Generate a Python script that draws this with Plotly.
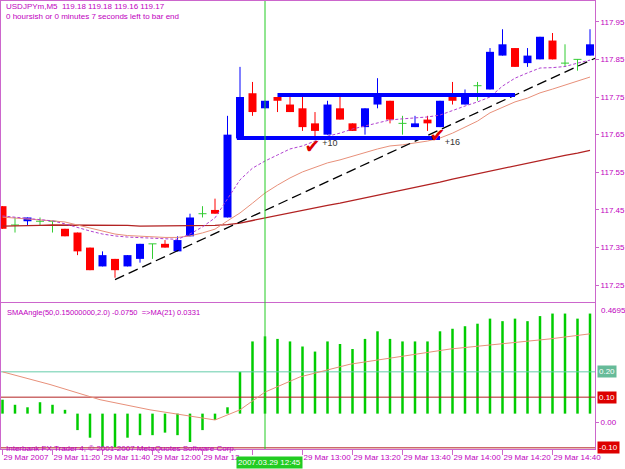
import plotly.graph_objects as go

# ---------------- data ----------------
TIME_LABELS = ["29 Mar 2007", "29 Mar 11:20", "29 Mar 11:40", "29 Mar 12:00", "29 Mar 12",
               "", "29 Mar 13:00", "29 Mar 13:20", "29 Mar 13:40", "29 Mar 14:00",
               "29 Mar 14:20", "29 Mar 14:40"]
TIME_TICK_BARS = [0, 4, 8, 12, 16, 20, 24, 28, 32, 36, 40, 44]
BARS = list(range(48))

OPEN = [117.46, 117.41, 117.42, 117.42, 117.42, 117.40, 117.39, 117.35, 117.30, 117.32,
        117.30, 117.32, 117.36, 117.36, 117.34, 117.38, 117.44, 117.45, 117.43, 117.64,
        117.76, 117.72, 117.75, 117.73, 117.72, 117.68, 117.65, 117.72, 117.68, 117.67,
        117.73, 117.74, 117.68, 117.67, 117.69, 117.67, 117.75, 117.73, 117.78, 117.77,
        117.86, 117.88, 117.84, 117.85, 117.90, 117.84, 117.85, 117.86]
HIGH = [117.46, 117.43, 117.43, 117.43, 117.42, 117.40, 117.39, 117.35, 117.34, 117.32,
        117.33, 117.36, 117.36, 117.37, 117.38, 117.44, 117.46, 117.48, 117.70, 117.83,
        117.79, 117.74, 117.75, 117.75, 117.75, 117.71, 117.74, 117.75, 117.68, 117.72,
        117.80, 117.74, 117.70, 117.70, 117.70, 117.74, 117.79, 117.77, 117.79, 117.88,
        117.93, 117.88, 117.88, 117.91, 117.92, 117.89, 117.85, 117.93]
LOW = [117.40, 117.39, 117.41, 117.41, 117.39, 117.38, 117.33, 117.29, 117.30, 117.27,
       117.30, 117.31, 117.32, 117.35, 117.34, 117.38, 117.43, 117.44, 117.43, 117.64,
       117.70, 117.72, 117.71, 117.71, 117.66, 117.64, 117.65, 117.69, 117.66, 117.65,
       117.72, 117.68, 117.65, 117.67, 117.66, 117.67, 117.73, 117.73, 117.74, 117.77,
       117.86, 117.83, 117.83, 117.85, 117.85, 117.83, 117.82, 117.86]
CLOSE = [117.40, 117.41, 117.43, 117.42, 117.42, 117.38, 117.34, 117.29, 117.33, 117.29,
         117.33, 117.36, 117.36, 117.35, 117.37, 117.43, 117.44, 117.44, 117.65, 117.75,
         117.71, 117.74, 117.74, 117.71, 117.67, 117.66, 117.73, 117.69, 117.66, 117.72,
         117.76, 117.69, 117.68, 117.68, 117.68, 117.74, 117.74, 117.76, 117.78, 117.87,
         117.89, 117.83, 117.86, 117.91, 117.85, 117.84, 117.85, 117.89]

MA_FAST = [117.434, 117.431, 117.429, 117.425, 117.421, 117.413, 117.403, 117.394, 117.386, 117.381,
           117.378, 117.376, 117.374, 117.373, 117.372, 117.386, 117.405, 117.429, 117.479, 117.530,
           117.561, 117.580, 117.596, 117.612, 117.620, 117.633, 117.646, 117.654, 117.665, 117.673,
           117.681, 117.689, 117.692, 117.694, 117.697, 117.702, 117.715, 117.726, 117.737, 117.750,
           117.779, 117.800, 117.814, 117.827, 117.828, 117.831, 117.840, 117.848]
MA_MID = [117.431, 117.429, 117.426, 117.423, 117.421, 117.418, 117.410, 117.402, 117.394, 117.386,
          117.382, 117.380, 117.378, 117.377, 117.377, 117.381, 117.389, 117.399, 117.421, 117.442,
          117.468, 117.495, 117.516, 117.535, 117.551, 117.564, 117.575, 117.583, 117.593, 117.601,
          117.612, 117.620, 117.623, 117.628, 117.633, 117.641, 117.654, 117.670, 117.686, 117.708,
          117.723, 117.737, 117.747, 117.761, 117.771, 117.782, 117.792, 117.803]
MA_SLOW = [117.407, 117.407, 117.409, 117.409, 117.410, 117.410, 117.410, 117.410, 117.410, 117.409,
           117.409, 117.407, 117.407, 117.407, 117.407, 117.407, 117.407, 117.409, 117.411, 117.415,
           117.422, 117.429, 117.435, 117.442, 117.449, 117.455, 117.462, 117.468, 117.475, 117.482,
           117.488, 117.495, 117.503, 117.510, 117.516, 117.524, 117.532, 117.539, 117.546, 117.553,
           117.561, 117.568, 117.575, 117.583, 117.588, 117.595, 117.601, 117.608]

TREND_X = [9, 47.4]
TREND_Y = [117.265, 117.853]
BOX_TOP_X = [22, 41]
BOX_TOP_Y = [117.755, 117.755]
BOX_BOT_X = [18.75, 35]
BOX_BOT_Y = [117.641, 117.641]
MARKS = [(24.8, 117.615, "+10", 26.2, 117.625), (34.8, 117.644, "+16", 36.0, 117.628)]
VLINE_BAR = 21

PRICE_TICKS = [117.25, 117.35, 117.45, 117.55, 117.65, 117.75, 117.85, 117.95]

HIST_BASE = 0.035
SMA_ANGLE = [0.09, 0.07, 0.06, 0.08, 0.07, 0.05, -0.03, -0.06, -0.097, -0.097,
             -0.06, -0.05, -0.05, -0.04, -0.05, -0.077, -0.03, 0.01, 0.06, 0.20,
             0.32, 0.34, 0.33, 0.32, 0.30, 0.28, 0.32, 0.31, 0.29, 0.33,
             0.36, 0.33, 0.32, 0.32, 0.32, 0.36, 0.37, 0.38, 0.39, 0.41,
             0.40, 0.41, 0.40, 0.42, 0.43, 0.43, 0.41, 0.43]
MA21_X = [0, 3.8, 7.8, 11.8, 17, 19, 21, 23.8, 27.8, 31.8, 35.8, 39.8, 43.8, 47]
MA21_Y = [0.20, 0.15, 0.09, 0.05, 0.01, 0.05, 0.12, 0.18, 0.23, 0.26, 0.29, 0.31, 0.33, 0.35]
LEVELS = [0.20, 0.10, -0.10]

# ---------------- styles ----------------
FRAME = "#CC66CC"
TXT = "#C000C0"
BULL = "#0000FF"
BEAR = "#FF0000"
DOJI = "#33CC33"
FONT = "Liberation Sans"

W, H = 625, 469
ML, MR, MT, MB = 1, 30, 1, 20
PW = W - ML - MR
PH = H - MT - MB
MAIN_BOT = 302
IND_TOP = 303


def py(ypx):
    return (H - MB - ypx) / PH


def px(xpx):
    return (xpx - ML) / PW


fig = go.Figure()

# candle bodies
bx, bbase, bh, bcol = [], [], [], []
for i, o, c in zip(BARS, OPEN, CLOSE):
    if o != c:
        bx.append(i)
        bbase.append(min(o, c))
        bh.append(abs(c - o))
        bcol.append(BULL if c > o else BEAR)
fig.add_trace(go.Bar(x=bx, y=bh, base=bbase, width=0.64, marker=dict(color=bcol, line=dict(width=0)),
                     xaxis="x", yaxis="y", hoverinfo="skip"))

# wicks
for col, cond in ((BULL, lambda o, c: c > o), (BEAR, lambda o, c: c < o)):
    wx, wy = [], []
    for i, o, h, l, c in zip(BARS, OPEN, HIGH, LOW, CLOSE):
        if cond(o, c):
            wx += [i, i, None]
            wy += [l, h, None]
    fig.add_trace(go.Scatter(x=wx, y=wy, mode="lines", line=dict(color=col, width=1),
                             xaxis="x", yaxis="y", hoverinfo="skip"))

# doji crosses
dx, dy = [], []
for i, o, h, l, c in zip(BARS, OPEN, HIGH, LOW, CLOSE):
    if o == c:
        dx += [i, i, None, i - 0.32, i + 0.32, None]
        dy += [l, h, None, c, c, None]
fig.add_trace(go.Scatter(x=dx, y=dy, mode="lines", line=dict(color=DOJI, width=1),
                         xaxis="x", yaxis="y", hoverinfo="skip"))

# moving averages
fig.add_trace(go.Scatter(x=BARS, y=MA_SLOW, mode="lines", line=dict(color="#B22222", width=1.3),
                         xaxis="x", yaxis="y"))
fig.add_trace(go.Scatter(x=BARS, y=MA_MID, mode="lines", line=dict(color="#E8907A", width=1),
                         xaxis="x", yaxis="y"))
fig.add_trace(go.Scatter(x=BARS, y=MA_FAST, mode="lines", line=dict(color="#B040D0", width=1, dash="3px,2px"),
                         xaxis="x", yaxis="y"))
# trend line
fig.add_trace(go.Scatter(x=TREND_X, y=TREND_Y, mode="lines", line=dict(color="black", width=1.3, dash="10px,5px"),
                         xaxis="x", yaxis="y"))
# box lines
fig.add_trace(go.Scatter(x=BOX_TOP_X, y=BOX_TOP_Y, mode="lines", line=dict(color=BULL, width=4),
                         xaxis="x", yaxis="y"))
fig.add_trace(go.Scatter(x=BOX_BOT_X, y=BOX_BOT_Y, mode="lines", line=dict(color=BULL, width=4),
                         xaxis="x", yaxis="y"))
# check marks
for cx, cy, lab, lx, ly in MARKS:
    fig.add_trace(go.Scatter(x=[cx], y=[cy], mode="text", text=["✔"],
                             textfont=dict(color="#DD0000", size=19, family="DejaVu Sans"),
                             xaxis="x", yaxis="y"))
    fig.add_trace(go.Scatter(x=[lx], y=[ly], mode="text", text=[lab],
                             textfont=dict(color="#333333", size=9, family=FONT),
                             xaxis="x", yaxis="y"))

# indicator levels
for lv, col in zip(LEVELS, ["#66CCAA", "#B22222", "#B22222"]):
    fig.add_trace(go.Scatter(x=[-1, 49], y=[lv, lv], mode="lines", line=dict(color=col, width=1),
                             xaxis="x2", yaxis="y2"))
# indicator histogram
fig.add_trace(go.Bar(x=BARS, y=[v - HIST_BASE for v in SMA_ANGLE], base=HIST_BASE, width=0.2,
                     marker=dict(color="#00CC00", line=dict(width=0)), xaxis="x2", yaxis="y2"))
fig.add_trace(go.Scatter(x=MA21_X, y=MA21_Y, mode="lines", line=dict(color="#E8907A", width=1),
                         xaxis="x2", yaxis="y2"))

XR = [-0.12, 47.4]
axis_common = dict(showgrid=False, zeroline=False, showline=True, mirror=True, linecolor=FRAME, linewidth=1,
                   automargin=False)
fig.update_layout(
    width=W, height=H, margin=dict(l=ML, r=MR, t=MT, b=MB, autoexpand=False),
    paper_bgcolor="white", plot_bgcolor="white", showlegend=False, barmode="overlay",
    font=dict(family=FONT, size=8, color=TXT),
    xaxis=dict(domain=[0, 1], range=XR, anchor="y", showticklabels=False, ticks="", **axis_common),
    yaxis=dict(domain=[py(MAIN_BOT), 1], range=[117.2055, 118.005], anchor="x", side="right",
               tickvals=PRICE_TICKS, ticktext=[f"{v:.2f}" for v in PRICE_TICKS],
               ticks="outside", ticklen=3, tickcolor=FRAME, tickfont=dict(size=8, color=TXT, family=FONT),
               **axis_common),
    xaxis2=dict(domain=[0, 1], range=XR, anchor="y2", tickvals=TIME_TICK_BARS, ticktext=TIME_LABELS,
                ticks="outside", ticklen=5, tickcolor=FRAME, ticklabelposition="outside right", tickangle=0,
                tickfont=dict(size=8, color=TXT, family=FONT), **axis_common),
    yaxis2=dict(domain=[0, py(IND_TOP)], range=[-0.1046, 0.4717], anchor="x2", side="right",
                tickvals=[0.0], ticktext=["0.00"], ticks="outside", ticklen=3, tickcolor=FRAME,
                tickfont=dict(size=8, color=TXT, family=FONT), **axis_common),
)

# green vertical line across both panels
fig.add_shape(type="line", xref="x", yref="paper", x0=VLINE_BAR, x1=VLINE_BAR, y0=0, y1=1,
              line=dict(color="#22CC22", width=1))

ann = [
    dict(text="USDJPYm,M5  119.18 119.18 119.16 119.17", x=px(4), y=py(7), size=8),
    dict(text="0 hoursish or 0 minutes 7 seconds left to bar end", x=px(4), y=py(16), size=8),
    dict(text="SMAAngle(50,0.15000000,2.0) -0.0750  =>MA(21) 0.0331", x=px(5), y=py(312), size=7.5),
    dict(text="Interbank FX Trader 4, © 2001-2007 MetaQuotes Software Corp.", x=px(4), y=py(448), size=8),
]
for a in ann:
    sz = a.pop("size")
    fig.add_annotation(xref="paper", yref="paper", xanchor="left", yanchor="middle", showarrow=False,
                       font=dict(size=sz, color=TXT, family=FONT), **a)

# indicator right labels
fig.add_annotation(xref="paper", yref="paper", x=1, xshift=4, y=py(310), xanchor="left", yanchor="middle",
                   text="0.4695", showarrow=False, font=dict(size=8, color=TXT, family=FONT))
for lv, bg in zip(LEVELS, ["#66BB99", "#DD0000", "#DD0000"]):
    fig.add_annotation(xref="paper", yref="y2", x=1, xshift=2, y=lv, xanchor="left", yanchor="middle",
                       text=f"{lv:.2f}", showarrow=False, bgcolor=bg, borderpad=1,
                       font=dict(size=8, color="white", family=FONT))
# vline time label
fig.add_annotation(xref="x", yref="paper", x=VLINE_BAR, xshift=-29, y=py(462), xanchor="left", yanchor="middle",
                   text="2007.03.29 12:45", showarrow=False, bgcolor="#22CC22", borderpad=1,
                   font=dict(size=8, color="white", family=FONT))

fig.write_html("out.html")
